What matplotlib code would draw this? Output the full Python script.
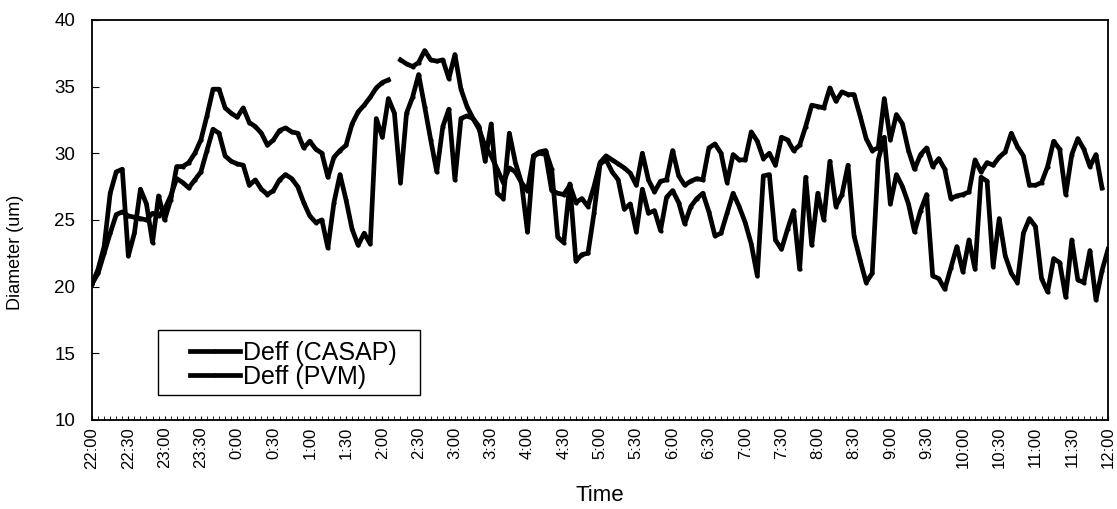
import numpy as np
import matplotlib.pyplot as plt
from matplotlib.patches import Rectangle

plt.rcParams['font.family'] = ['Liberation Sans', 'DejaVu Sans']

# sample times in minutes after 22:00, one reading every 5 minutes
minutes = np.arange(0, 845, 5)

# one row per hour (22:00, 23:00, 0:00, ... 11:00, 12:00)
casap = [
    20.2, 21.3, 23.0, 27.0, 28.6, 28.8, 22.3, 24.0, 27.3, 26.2, 23.3, 26.8,
    25.0, 26.5, 29.0, 29.0, 29.3, 30.0, 31.0, 32.8, 34.8, 34.8, 33.4, 33.0,
    32.7, 33.4, 32.3, 32.0, 31.5, 30.6, 31.0, 31.7, 31.9, 31.6, 31.5, 30.4,
    30.9, 30.3, 30.0, 28.2, 29.7, 30.2, 30.6, 32.2, 33.1, 33.6, 34.2, 34.9,
    35.3, 35.5, np.nan, 37.0, 36.7, 36.5, 36.8, 37.7, 37.0, 36.9, 37.0, 35.6,
    37.4, 34.8, 33.5, 32.6, 31.8, 30.5, 29.8, 28.8, 27.8, 28.9, 28.6, 27.8,
    27.2, 29.8, 30.0, 29.9, 27.2, 27.0, 26.9, 27.6, 26.3, 26.6, 26.0, 27.5,
    29.3, 29.8, 29.5, 29.2, 28.9, 28.5, 27.6, 30.0, 28.0, 27.1, 27.9, 28.0,
    30.2, 28.3, 27.6, 27.9, 28.1, 28.0, 30.4, 30.7, 30.0, 27.8, 29.9, 29.5,
    29.5, 31.6, 30.9, 29.6, 30.0, 29.1, 31.2, 31.0, 30.2, 30.6, 32.0, 33.6,
    33.5, 33.4, 34.9, 33.9, 34.6, 34.4, 34.4, 32.8, 31.1, 30.2, 30.4, 34.1,
    31.0, 32.9, 32.2, 30.2, 28.8, 29.9, 30.4, 29.0, 29.6, 28.8, 26.6, 26.8,
    26.9, 27.1, 29.5, 28.6, 29.3, 29.1, 29.7, 30.1, 31.5, 30.5, 29.8, 27.6,
    27.6, 27.8, 29.0, 30.9, 30.3, 26.9, 29.9, 31.1, 30.3, 29.0, 29.9, 27.4,
    np.nan,
]

pvm = [
    20.2, 21.0, 22.5, 24.0, 25.4, 25.6, 25.3, 25.2, 25.1, 25.0, 25.5, 25.3,
    25.8, 26.8, 28.1, 27.8, 27.4, 28.0, 28.6, 30.2, 31.8, 31.5, 29.8, 29.4,
    29.2, 29.1, 27.6, 28.0, 27.3, 26.9, 27.2, 28.0, 28.4, 28.1, 27.5, 26.3,
    25.3, 24.8, 25.0, 22.9, 26.3, 28.4, 26.5, 24.3, 23.1, 24.0, 23.2, 32.6,
    31.2, 34.1, 33.0, 27.8, 33.0, 34.2, 35.9, 33.5, 31.0, 28.6, 32.0, 33.3,
    28.0, 32.6, 32.8, 32.6, 32.0, 29.4, 32.2, 27.0, 26.6, 31.5, 29.3, 27.8,
    24.1, 29.8, 30.1, 30.2, 28.8, 23.7, 23.3, 27.7, 21.9, 22.4, 22.5, 25.5,
    29.2, 29.5, 28.6, 28.0, 25.8, 26.2, 24.1, 27.3, 25.5, 25.7, 24.2, 26.7,
    27.2, 26.3, 24.7, 26.0, 26.6, 27.0, 25.6, 23.8, 24.0, 25.5, 27.0, 26.0,
    24.8, 23.2, 20.8, 28.3, 28.4, 23.5, 22.8, 24.3, 25.7, 21.3, 28.2, 23.1,
    27.0, 25.0, 29.4, 26.0, 26.9, 29.1, 23.8, 22.0, 20.3, 21.0, 29.5, 31.2,
    26.2, 28.4, 27.5, 26.2, 24.1, 25.7, 26.9, 20.8, 20.6, 19.8, 21.4, 23.0,
    21.1, 23.5, 21.3, 28.2, 27.9, 21.5, 25.1, 22.3, 21.0, 20.3, 24.0, 25.1,
    24.5, 20.6, 19.6, 22.1, 21.8, 19.2, 23.5, 20.5, 20.3, 22.7, 19.0, 21.2,
    22.8,
]

hours = [22, 23] + list(range(0, 12))
time_labels = [f"{h}:{m:02d}" for h in hours for m in (0, 30)] + ["12:00"]

fig = plt.figure(figsize=(11.17, 5.09), dpi=100)
ax = fig.add_axes([0.0824, 0.175, 0.9096, 0.786])

ax.plot(minutes, casap, color='black', lw=3.4, marker='.', ms=4, label='Deff (CASAP)')
ax.plot(minutes, pvm, color='black', lw=3.4, marker='.', ms=4, label='Deff (PVM)')

ax.set_xlim(0, 840)
ax.set_ylim(10, 40)
ax.set_xticks(np.arange(0, 841, 30))
ax.set_xticklabels(time_labels, rotation=90, fontsize=12)
ax.set_xticks(np.arange(0, 841, 5), minor=True)
ax.set_yticks(range(10, 41, 5))
ax.tick_params(axis='y', labelsize=13.5, direction='in', length=5, pad=12)
ax.tick_params(axis='x', which='both', direction='in', length=3, pad=5)

for s in ax.spines.values():
    s.set_linewidth(1.3)

ax.set_xlabel('Time', fontsize=16, labelpad=12)
ax.set_ylabel('Diameter (um)', fontsize=13)
ax.yaxis.set_label_coords(-0.067, 0.42)

# legend box is drawn separately so the entries can sit further in
ax.add_patch(Rectangle((0.065, 0.0625), 0.258, 0.1625, transform=ax.transAxes,
                       fill=True, facecolor='white', edgecolor='black',
                       lw=1.0, zorder=4))
leg = ax.legend(loc='upper left', bbox_to_anchor=(0.0965, 0.197), fontsize=18,
                frameon=False, handlelength=2.0, handletextpad=0.1,
                borderpad=0.0, labelspacing=0.0, borderaxespad=0.0)
leg.set_zorder(5)

fig.savefig('out.png', dpi=100)
